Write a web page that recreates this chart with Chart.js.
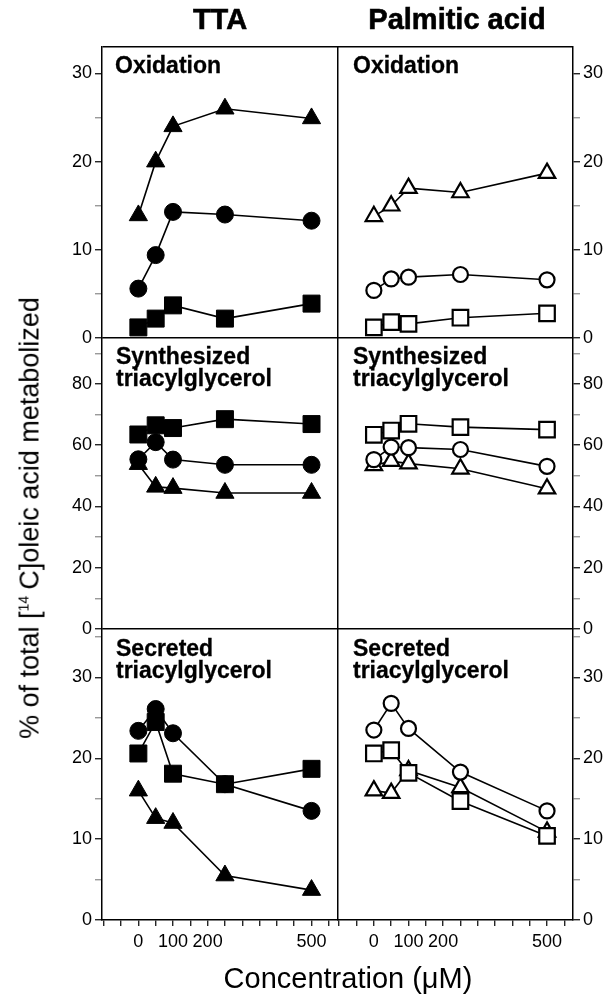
<!DOCTYPE html>
<html>
<head>
<meta charset="utf-8">
<script src="https://cdn.jsdelivr.net/npm/chart.js@4.4.1/dist/chart.umd.min.js"></script>
<style>
  body { margin: 0; background: #fff; }
  #wrap { position: relative; width: 611px; height: 1000px; font-family: "Liberation Sans", Arial, sans-serif; color: #000; }
  #chart { position: absolute; left: 0; top: 0; }
  .head { position: absolute; top: 3px; font-weight: bold; font-size: 29px; transform: translateX(-50%); white-space: nowrap; -webkit-text-stroke: 0.6px #000; }
  .panel { position: absolute; font-weight: bold; font-size: 23px; line-height: 22px; white-space: nowrap; -webkit-text-stroke: 0.3px #000; }
  #ytitle { position: absolute; left: 30px; top: 518px; font-size: 27px; white-space: nowrap; transform: translate(-50%, -50%) rotate(-90deg); }
  #ytitle sup { font-size: 14px; vertical-align: 10px; line-height: 0; margin-right: 6px; }
  #xtitle { position: absolute; left: 348px; top: 978px; font-size: 29px; white-space: nowrap; transform: translate(-50%, -50%); }
</style>
</head>
<body>
<div id="wrap">
  <canvas id="chart" width="611" height="1000"></canvas>
  <div class="head" style="left:220px">TTA</div>
  <div class="head" style="left:457px">Palmitic acid</div>
  <div class="panel" style="left:115px; top:54px">Oxidation</div>
  <div class="panel" style="left:353px; top:54px">Oxidation</div>
  <div class="panel" style="left:116px; top:345px">Synthesized<br>triacylglycerol</div>
  <div class="panel" style="left:353px; top:345px">Synthesized<br>triacylglycerol</div>
  <div class="panel" style="left:116px; top:637px">Secreted<br>triacylglycerol</div>
  <div class="panel" style="left:353px; top:637px">Secreted<br>triacylglycerol</div>
  <div id="ytitle">% of total [<sup>14</sup>C]oleic acid metabolized</div>
  <div id="xtitle">Concentration (μM)</div>
</div>
<script>
// x values (µM)
const concentrations = [0, 50, 100, 250, 500];

// TTA
const ttaOxSquare = [1.2, 2.2, 3.7, 2.2, 3.9];
const ttaOxCircle = [5.6, 9.4, 14.3, 14.0, 13.3];
const ttaOxTriangle = [13.9, 20.0, 24.0, 26.0, 24.9];
const ttaSynSquare = [63.5, 66.5, 65.6, 68.5, 66.9];
const ttaSynCircle = [55.4, 61.0, 55.3, 53.6, 53.6];
const ttaSynTriangle = [53.8, 46.4, 46.0, 44.4, 44.4];
const ttaSecSquare = [20.6, 24.5, 18.1, 16.8, 18.7];
const ttaSecCircle = [23.4, 26.1, 23.1, 16.8, 13.5];
const ttaSecTriangle = [16.0, 12.6, 12.0, 5.5, 3.7];

// Palmitic acid
const palmOxSquare = [1.2, 1.8, 1.6, 2.3, 2.8];
const palmOxCircle = [5.4, 6.7, 6.9, 7.2, 6.6];
const palmOxTriangle = [13.8, 15.0, 17.0, 16.5, 18.7];
const palmSynSquare = [63.4, 64.8, 67.0, 65.9, 65.1];
const palmSynCircle = [55.3, 59.4, 59.2, 58.6, 53.1];
const palmSynTriangle = [53.4, 54.8, 54.0, 52.3, 45.8];
const palmSecSquare = [20.6, 21.0, 18.2, 14.7, 10.4];
const palmSecCircle = [23.5, 26.8, 23.7, 18.3, 13.5];
const palmSecTriangle = [16.0, 15.7, 18.5, 16.4, 10.9];

// axis ticks
const xTicks = [-100, -50, 0, 50, 100, 150, 200, 250, 300, 350, 400, 450, 500, 550];
const xTickLabels = [0, 100, 200, 500];
const oxTicks = [0, 5, 10, 15, 20, 25, 30];
const oxTickLabels = [0, 10, 20, 30];
const synTicks = [0, 10, 20, 30, 40, 50, 60, 70, 80, 90];
const synTickLabels = [0, 20, 40, 60, 80];
const secTicks = [0, 5, 10, 15, 20, 25, 30, 35];
const secTickLabels = [0, 10, 20, 30];

const FONT = "'Liberation Sans', Arial, sans-serif";
const CLEAR = "rgba(0,0,0,0)";

function yAxis(position, weight, max, tickValues, labelValues, drawDivider) {
    return {
        type: "linear",
        position: position,
        stack: position,
        stackWeight: 1,
        weight: weight,
        min: 0,
        max: max,
        afterBuildTicks: function (scale) {
            scale.ticks = tickValues.concat([max]).map((v) => ({ value: v }));
        },
        afterFit: function (scale) {
            scale.width = position === "left" ? 40 : 38;
            scale.paddingTop = 0;
            scale.paddingBottom = 0;
        },
        border: { display: true, color: "#000", width: 1.5 },
        grid: {
            drawOnChartArea: true,
            drawTicks: true,
            tickLength: 7,
            lineWidth: 1.5,
            color: (c) => (drawDivider && c.tick && c.tick.value === max ? "#000" : CLEAR),
            tickColor: (c) =>
                c.tick && c.tick.value === max
                    ? CLEAR
                    : labelValues.includes(c.tick ? c.tick.value : -1) ? "#000" : "#888",
            tickWidth: 1.2,
        },
        ticks: {
            autoSkip: false,
            color: "#000",
            padding: 3,
            font: { family: FONT, size: 18 },
            callback: (v) => (labelValues.includes(v) ? String(v) : ""),
        },
    };
}

function xAxis(drawDivider) {
    const max = 575;
    return {
        type: "linear",
        position: "bottom",
        stack: "bottom",
        stackWeight: 1,
        min: -105,
        max: max,
        afterBuildTicks: function (scale) {
            scale.ticks = xTicks.concat([max]).map((v) => ({ value: v }));
        },
        afterFit: function (scale) {
            scale.height = 50;
            scale.paddingLeft = 0;
            scale.paddingRight = 0;
        },
        border: { display: true, color: "#000", width: 1.5 },
        grid: {
            drawOnChartArea: true,
            drawTicks: true,
            tickLength: 6,
            lineWidth: 1.5,
            color: (c) => (drawDivider && c.tick && c.tick.value === max ? "#000" : CLEAR),
            tickColor: (c) => (c.tick && c.tick.value === max ? CLEAR : "#000"),
            tickWidth: 1.2,
        },
        ticks: {
            autoSkip: false,
            maxRotation: 0,
            color: "#000",
            padding: 5,
            font: { family: FONT, size: 18 },
            callback: (v) => (xTickLabels.includes(v) ? String(v) : ""),
        },
    };
}

const markers = {
    square: { style: "rect", filled: 12, open: 11, order: 1 },
    circle: { style: "circle", filled: 8.5, open: 7.5, order: 0 },
    triangle: { style: "triangle", filled: 10.5, open: 9.5, order: 2 },
};

function series(values, xID, yID, shape, filled) {
    const m = markers[shape];
    return {
        data: concentrations.map((c, i) => ({ x: c, y: values[i] })),
        xAxisID: xID,
        yAxisID: yID,
        borderColor: "#000",
        borderWidth: 1.6,
        pointStyle: m.style,
        pointRadius: filled ? m.filled : m.open,
        pointHoverRadius: filled ? m.filled : m.open,
        pointBackgroundColor: filled ? "#000" : "#fff",
        pointBorderColor: "#000",
        pointBorderWidth: filled ? 1 : 2.2,
        order: m.order,
        clip: false,
    };
}

const datasets = [
    series(ttaOxSquare, "xTta", "yTtaOx", "square", true),
    series(ttaOxCircle, "xTta", "yTtaOx", "circle", true),
    series(ttaOxTriangle, "xTta", "yTtaOx", "triangle", true),
    series(ttaSynSquare, "xTta", "yTtaSyn", "square", true),
    series(ttaSynCircle, "xTta", "yTtaSyn", "circle", true),
    series(ttaSynTriangle, "xTta", "yTtaSyn", "triangle", true),
    series(ttaSecSquare, "xTta", "yTtaSec", "square", true),
    series(ttaSecCircle, "xTta", "yTtaSec", "circle", true),
    series(ttaSecTriangle, "xTta", "yTtaSec", "triangle", true),
    series(palmOxSquare, "xPalm", "yPalmOx", "square", false),
    series(palmOxCircle, "xPalm", "yPalmOx", "circle", false),
    series(palmOxTriangle, "xPalm", "yPalmOx", "triangle", false),
    series(palmSynSquare, "xPalm", "yPalmSyn", "square", false),
    series(palmSynCircle, "xPalm", "yPalmSyn", "circle", false),
    series(palmSynTriangle, "xPalm", "yPalmSyn", "triangle", false),
    series(palmSecSquare, "xPalm", "yPalmSec", "square", false),
    series(palmSecCircle, "xPalm", "yPalmSec", "circle", false),
    series(palmSecTriangle, "xPalm", "yPalmSec", "triangle", false),
];

new Chart(document.getElementById("chart"), {
    type: "line",
    data: { datasets: datasets },
    options: {
        responsive: false,
        animation: false,
        events: [],
        layout: { padding: { left: 62, right: 0, top: 47, bottom: 30 } },
        plugins: { legend: { display: false }, tooltip: { enabled: false } },
        scales: {
            xTta: xAxis(true),
            xPalm: xAxis(false),
            yTtaOx: yAxis("left", 3, 33, oxTicks, oxTickLabels, true),
            yTtaSyn: yAxis("left", 2, 95, synTicks, synTickLabels, true),
            yTtaSec: yAxis("left", 1, 36, secTicks, secTickLabels, true),
            yPalmOx: yAxis("right", 1, 33, oxTicks, oxTickLabels, false),
            yPalmSyn: yAxis("right", 2, 95, synTicks, synTickLabels, false),
            yPalmSec: yAxis("right", 3, 36, secTicks, secTickLabels, false),
        },
    },
});
</script>
</body>
</html>
